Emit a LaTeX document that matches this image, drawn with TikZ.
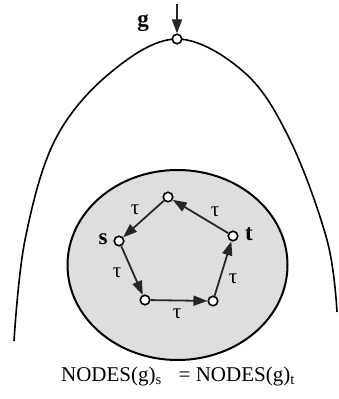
\documentclass[tikz,border=0pt]{standalone}
\usepackage{amsmath}
\usepackage{fontspec}
\setmainfont{Liberation Serif}
\usetikzlibrary{arrows.meta}
\tikzset{
  vert/.style ={circle, draw, line width=1.6pt, fill=white, inner sep=0pt,
                minimum size=9.5pt},
  lbl/.style  ={font=\fontsize{23}{23}\selectfont\bfseries, inner sep=1pt},
  tlbl/.style ={font=\fontsize{21}{21}\selectfont, inner sep=1pt},
  fl/.style   ={-{Triangle[length=14pt,width=10pt]}, line width=1.8pt, draw=black!85},
  eqtext/.style={font=\fontsize{21}{21}\selectfont, inner sep=0pt},
}

\begin{document}
\begin{tikzpicture}[x=1pt,y=-1pt]
  \useasboundingbox (0,0) rectangle (339,399);

  % the outer arch
  \draw[line width=1.6pt] plot[smooth, tension=0.6] coordinates
        {(14,341) (25,240) (55,140) (110,73) (177,39) (245,73) (290,140) (327,240) (337,312)};

  % shaded region round the cycle
  \draw[line width=2pt, fill=black!13] (177.5,265) ellipse [x radius=110, y radius=95];

  % entry node
  \node[vert] (g) at (177,39) {};
  \coordinate (gin) at (177,4);
  \draw[fl] (gin) -- (g);
  \node[lbl] (glbl) at (143,23) {g};

  % the cycle
  \node[vert] (a)  at (168,197) {};
  \node[vert] (s)  at (119,241) {};
  \node[vert] (bl) at (145,300) {};
  \node[vert] (br) at (213,301) {};
  \node[vert] (t)  at (233,236) {};
  \node[lbl] (slbl) at (103,239) {s};
  \node[lbl] (tlbl) at (249,234) {t};

  \draw[fl] (a)  -- (s);
  \draw[fl] (s)  -- (bl);
  \draw[fl] (bl) -- (br);
  \draw[fl] (br) -- (t);
  \draw[fl] (t)  -- (a);

  \node[tlbl] (tau1) at (135,210) {τ};
  \node[tlbl] (tau2) at (117,273) {τ};
  \node[tlbl] (tau3) at (177,314) {τ};
  \node[tlbl] (tau4) at (233,279) {τ};
  \node[tlbl] (tau5) at (215,212) {τ};

  \node[eqtext, anchor=base] (eq) at (178,381)
        {NODES(g)$_{\text{s}}$\;\; = NODES(g)$_{\text{t}}$};
\end{tikzpicture}
\end{document}
